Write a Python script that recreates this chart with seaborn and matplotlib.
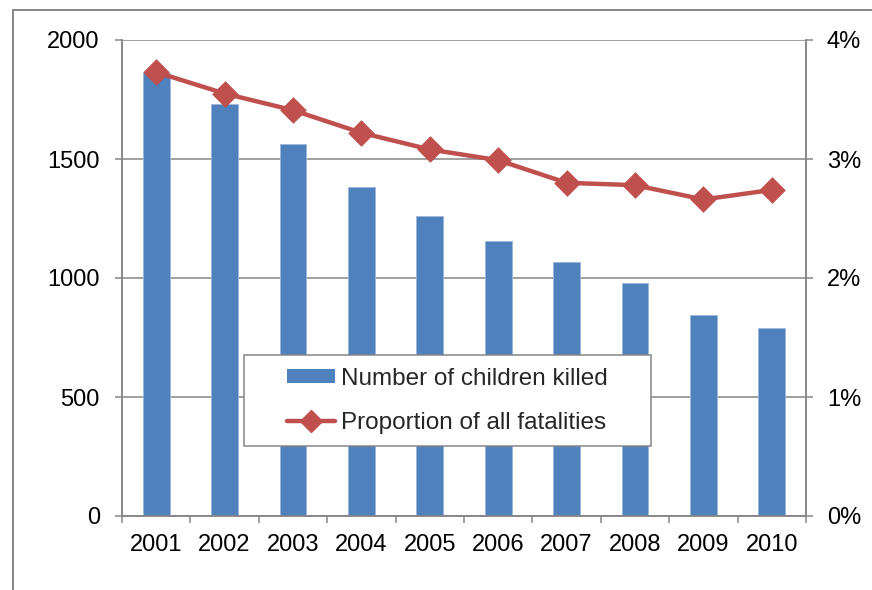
import matplotlib
matplotlib.use("Agg")
import matplotlib.pyplot as plt
import matplotlib.ticker as mticker
from matplotlib.lines import Line2D
from matplotlib.patches import Rectangle
import pandas as pd
import seaborn as sns

# Child road deaths and their share of all road fatalities, 2001-2010
years = ["2001", "2002", "2003", "2004", "2005", "2006", "2007", "2008", "2009", "2010"]
children_killed = [1862, 1730, 1564, 1381, 1259, 1157, 1066, 981, 846, 788]
proportion_of_fatalities = [0.0373, 0.0355, 0.0341, 0.0322, 0.0308, 0.0299, 0.0280, 0.0278, 0.0266, 0.0274]

bar_label = "Number of children killed"
line_label = "Proportion of all fatalities"

BLUE = "#4F81BD"
RED = "#C0504D"
GREY = "#868686"

df = pd.DataFrame({"year": years, "killed": children_killed, "share": proportion_of_fatalities})

sns.set_theme(style="white")
plt.rcParams["font.family"] = ["Liberation Sans", "DejaVu Sans"]
plt.rcParams["font.size"] = 17

fig = plt.figure(figsize=(8.72, 5.90), dpi=100)
ax = fig.add_axes([122 / 872, 1 - 516 / 590, (806 - 122) / 872, (516 - 40) / 590])

sns.barplot(data=df, x="year", y="killed", ax=ax, color=BLUE, width=0.39,
            saturation=1, edgecolor="#9CB7DD", linewidth=0.6)

ax2 = ax.twinx()
sns.pointplot(data=df, x="year", y="share", ax=ax2, color=RED, markers="D",
              markersize=11, linewidth=3.2, errorbar=None)

# Left axis
ax.set_ylim(0, 2000)
ax.set_yticks([0, 500, 1000, 1500, 2000])
ax.yaxis.grid(True, color=GREY, linewidth=1.1)
ax.xaxis.grid(False)
ax.set_axisbelow(True)
ax.set_xlabel("")
ax.set_ylabel("")
ax.set_xlim(-0.5, len(years) - 0.5)

# Right axis
ax2.set_ylim(0, 0.04)
ax2.set_yticks([0, 0.01, 0.02, 0.03, 0.04])
ax2.yaxis.set_major_formatter(mticker.PercentFormatter(xmax=1, decimals=0))
ax2.set_ylabel("")
ax2.set_xlabel("")
ax2.grid(False)

for a in (ax, ax2):
    a.spines["top"].set_visible(False)
    for side in ("left", "right", "bottom"):
        a.spines[side].set_color(GREY)
        a.spines[side].set_linewidth(1.1)

ax.tick_params(axis="y", which="major", left=True, length=5, width=1.1, color=GREY,
               pad=11, labelsize=17, labelcolor="black")
ax2.tick_params(axis="y", which="major", right=True, length=5, width=1.1, color=GREY,
                pad=10, labelsize=17, labelcolor="black")

# Category boundaries carry the tick marks; labels sit at the centres
ax.set_xticks([i - 0.5 for i in range(len(years) + 1)], minor=True)
ax.tick_params(axis="x", which="minor", bottom=True, length=5, width=1.1, color=GREY)
ax.tick_params(axis="x", which="major", bottom=True, length=0, pad=13, labelsize=17,
               labelcolor="black")

# Legend box: a wide framed panel with the entries centred inside it
box_x0, box_y0, box_x1, box_y1 = 0.178, 0.147, 0.773, 0.338
ax2.add_patch(Rectangle((box_x0, box_y0), box_x1 - box_x0, box_y1 - box_y0,
                        transform=ax2.transAxes, facecolor="white", edgecolor=GREY,
                        linewidth=1.1, zorder=9))

handles = [
    Rectangle((0, 0), 1, 1, facecolor=BLUE, edgecolor="none"),
    Line2D([0], [0], color=RED, linewidth=3.2, marker="D", markersize=11),
]
leg = ax2.legend(handles, [bar_label, line_label], loc="center",
                 bbox_to_anchor=((box_x0 + box_x1) / 2, (box_y0 + box_y1) / 2),
                 fontsize=17.5, frameon=False,
                 handlelength=2.0, handleheight=0.5, handletextpad=0.25,
                 labelspacing=0.9, borderpad=0, borderaxespad=0)
leg.set_zorder(10)

# Outer chart border
fig.add_artist(Line2D([13 / 872, 1], [1 - 10 / 590, 1 - 10 / 590], color=GREY, linewidth=1.4,
                      transform=fig.transFigure))
fig.add_artist(Line2D([13 / 872, 13 / 872], [1 - 10 / 590, 0], color=GREY, linewidth=1.4,
                      transform=fig.transFigure))

fig.savefig("out.png", dpi=100)
